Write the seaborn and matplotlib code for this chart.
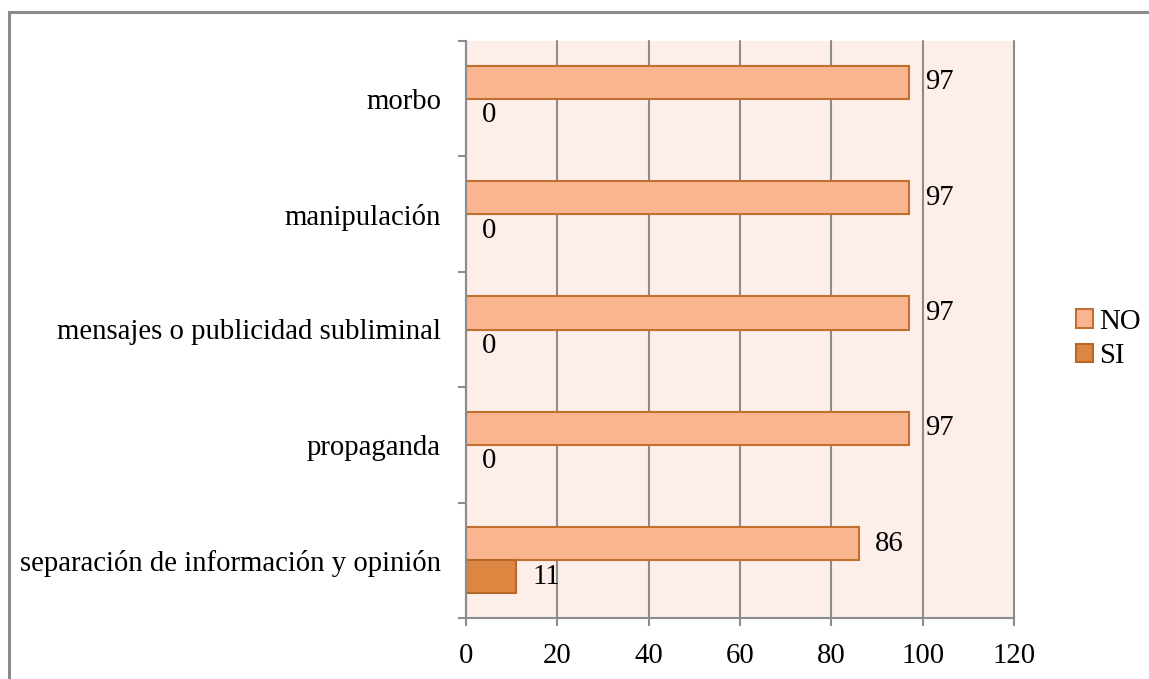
import matplotlib
matplotlib.use("Agg")
import matplotlib.pyplot as plt
import seaborn as sns
import pandas as pd
from matplotlib.patches import Rectangle

categories = ["morbo", "manipulación", "mensajes o publicidad subliminal",
              "propaganda", "separación de información y opinión"]
no_values = [97, 97, 97, 97, 86]
si_values = [0, 0, 0, 0, 11]
series = ["NO", "SI"]
xticks = [0, 20, 40, 60, 80, 100, 120]

df = pd.DataFrame({
    "cat": categories * 2,
    "val": no_values + si_values,
    "serie": ["NO"] * len(categories) + ["SI"] * len(categories),
})

sns.set_style("white")
plt.rcParams["font.family"] = ["Liberation Serif", "DejaVu Serif"]
plt.rcParams["text.color"] = "black"
plt.rcParams["xtick.color"] = "black"
plt.rcParams["ytick.color"] = "black"

FS = 20.7

fig = plt.figure(figsize=(11.49, 6.79), dpi=100)
ax = fig.add_axes([466/1149, 1 - 618/679, (1014-466)/1149, (618-41)/679])
ax.set_facecolor("#FDEEE9")

palette = {"NO": "#F9B590", "SI": "#DC8642"}
sns.barplot(data=df, y="cat", x="val", hue="serie", hue_order=series,
            order=categories, palette=palette, width=0.572, orient="h",
            ax=ax, saturation=1, legend=True)

edges = {"NO": "#C2702E", "SI": "#B5682A"}
for cont, s in zip(ax.containers, series):
    for p in cont:
        p.set_edgecolor(edges[s])
        p.set_linewidth(1.5)
    ax.bar_label(cont, labels=[f"{v:g}" for v in cont.datavalues],
                 padding=11.5, fontsize=FS, color="black")

ax.set_xlim(0, 120)
ax.set_xticks(xticks)
ax.set_ylim(len(categories) - 0.5, -0.5)
ax.set_xlabel("")
ax.set_ylabel("")
ax.grid(axis="x", color="#8C8C8C", linewidth=1.5)
for gl in ax.get_xgridlines():
    gl.set_clip_on(False)
ax.set_axisbelow(True)
for side in ["top", "right"]:
    ax.spines[side].set_visible(False)
for side in ["left", "bottom"]:
    ax.spines[side].set_color("#8C8C8C")
    ax.spines[side].set_linewidth(1.5)

ax.tick_params(axis="x", which="major", bottom=True, length=6, width=1.5,
               color="#8C8C8C", labelcolor="black", labelsize=FS, pad=12)
ax.tick_params(axis="y", which="major", left=False, length=0, labelsize=FS,
               labelcolor="black", pad=18)
ax.set_yticks([i - 0.5 for i in range(len(categories) + 1)], minor=True)
ax.tick_params(axis="y", which="minor", left=True, length=6, width=1.5,
               color="#8C8C8C")

leg = ax.legend(loc="center left", bbox_to_anchor=(1076/1149, 1 - 339/679),
                bbox_transform=fig.transFigure, frameon=False, fontsize=FS,
                handlelength=0.6, handleheight=0.6, handletextpad=0.2,
                labelspacing=0.3, borderaxespad=0, borderpad=0)
for h, s in zip(leg.legend_handles, series):
    h.set_edgecolor(edges[s])
    h.set_linewidth(1.5)
for t in leg.get_texts():
    t.set_color("black")

fig.add_artist(Rectangle((8.5/1149, -0.2), 1.2, 1.2 - 12.5/679,
                         transform=fig.transFigure, fill=False,
                         edgecolor="#8A8A8A", linewidth=2.2))

fig.savefig("out.png", dpi=100)
